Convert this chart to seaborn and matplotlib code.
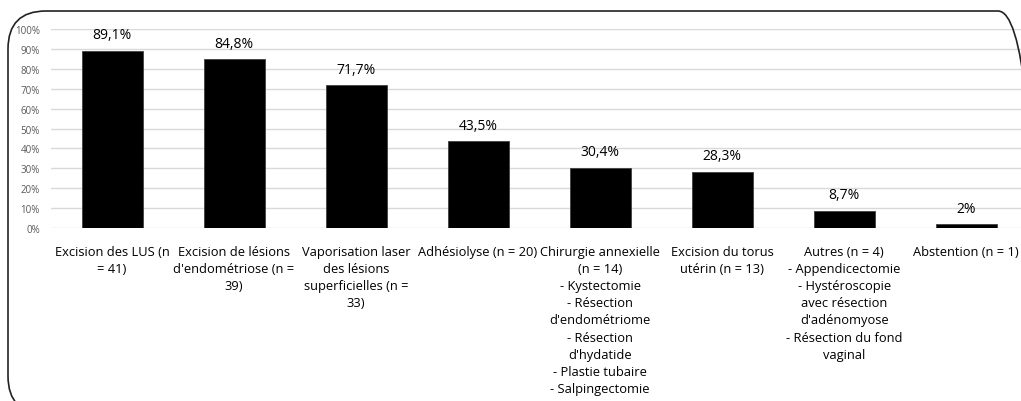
import matplotlib
matplotlib.use("Agg")
import matplotlib.pyplot as plt
from matplotlib.patches import FancyBboxPatch
from matplotlib.ticker import FuncFormatter
import seaborn as sns
import pandas as pd

categories = [
    "Excision des LUS (n\n= 41)",
    "Excision de lésions\nd'endométriose (n =\n39)",
    "Vaporisation laser\ndes lésions\nsuperficielles (n =\n33)",
    "Adhésiolyse (n = 20)",
    "Chirurgie annexielle\n(n = 14)\n- Kystectomie\n- Résection\nd'endométriome\n- Résection\nd'hydatide\n- Plastie tubaire\n- Salpingectomie",
    "Excision du torus\nutérin (n = 13)",
    "Autres (n = 4)\n- Appendicectomie\n- Hystéroscopie\navec résection\nd'adénomyose\n- Résection du fond\nvaginal",
    "Abstention (n = 1)",
]
values = [89.1, 84.8, 71.7, 43.5, 30.4, 28.3, 8.7, 2]
value_labels = ["89,1%", "84,8%", "71,7%", "43,5%", "30,4%", "28,3%", "8,7%", "2%"]
y_ticks = list(range(0, 101, 10))

sns.set_theme(style="white")
plt.rcParams["font.family"] = ["Open Sans", "DejaVu Sans"]

W, H = 1021, 402
fig = plt.figure(figsize=(W / 100, H / 100), dpi=100)
ax = fig.add_axes([51 / W, (H - 229) / H, (1021 - 51) / W, (229 - 30) / H])

df = pd.DataFrame({"cat": categories, "val": values})
sns.barplot(data=df, x="cat", y="val", color="black", width=0.5,
            saturation=1, ax=ax, edgecolor="#404040", linewidth=0.6)

ax.set_ylim(0, 100)
ax.set_xlim(-0.5, 7.45)
ax.set_yticks(y_ticks)
ax.yaxis.set_major_formatter(FuncFormatter(lambda v, p: f"{int(v)}%"))
ax.grid(axis="y", color="#d9d9d9", linewidth=1.0)
ax.set_axisbelow(True)
for s in ax.spines.values():
    s.set_visible(False)
ax.tick_params(axis="y", labelsize=7, labelcolor="#595959", length=0, pad=8)
ax.tick_params(axis="x", labelsize=9.3, labelcolor="black", length=0, pad=12)
for t in ax.get_xticklabels():
    t.set_horizontalalignment("center")
    t.set_linespacing(1.42)
ax.set_xlabel("")
ax.set_ylabel("")

for i, (v, lab) in enumerate(zip(values, value_labels)):
    ax.annotate(lab, (i, v), xytext=(0, 6), textcoords="offset points",
                ha="center", va="bottom", fontsize=10, color="black")

# rounded outer frame, running past the right and bottom edges
frame = FancyBboxPatch((8, -13), 1036 - 8, H - 12 + 13,
                       boxstyle="round,pad=0,rounding_size=38",
                       transform=None, fill=False, edgecolor="#222222",
                       linewidth=1.2, clip_on=False)
fig.patches.append(frame)

fig.savefig("out.png", dpi=100)
